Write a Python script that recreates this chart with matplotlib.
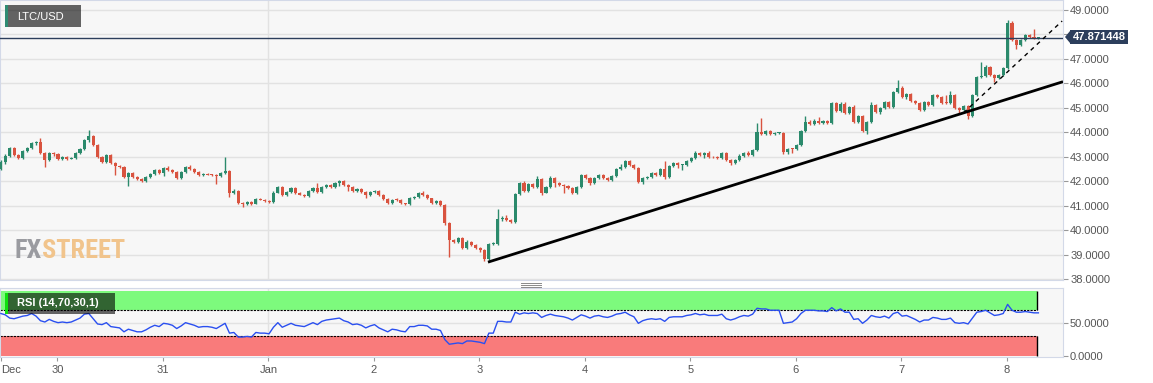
import numpy as np
import matplotlib.pyplot as plt
from matplotlib.patches import Rectangle, Polygon
from matplotlib.lines import Line2D

plt.rcParams['font.family'] = ['Liberation Sans', 'DejaVu Sans']

W, H = 1153, 383

# hourly LTC/USD candles, Dec 29 11:00 -> Jan 8 ~07:00
first_open = 42.50
closes = [
    42.78, 43.05, 43.34, 43.07, 42.95, 43.23, 43.34, 43.56, 43.62, 43.15, 42.87, 43.15, 43.10, 42.90, 42.99, 42.92, 42.95, 43.15, 43.31, 43.68, 43.85, 43.48, 42.99, 42.78,
    43.07, 42.74, 42.62, 42.58, 42.17, 42.33, 42.17, 42.09, 42.00, 42.17, 42.29, 42.46, 42.33, 42.54, 42.46, 42.37, 42.13, 42.37, 42.58, 42.50, 42.37, 42.25, 42.29, 42.27,
    42.25, 42.20, 42.33, 42.42, 41.52, 41.60, 41.10, 41.06, 41.15, 41.08, 41.27, 41.25, 41.19, 41.15, 41.53, 41.76, 41.43, 41.56, 41.72, 41.52, 41.45, 41.40, 41.60, 41.72,
    41.56, 41.76, 41.84, 41.76, 41.92, 42.00, 41.84, 41.76, 41.60, 41.68, 41.56, 41.43, 41.56, 41.60, 41.43, 41.27, 41.10, 41.23, 41.22, 41.10, 41.06, 41.31, 41.35, 41.52,
    41.43, 41.31, 41.10, 41.19, 41.02, 40.29, 39.59, 39.51, 39.67, 39.27, 39.51, 39.39, 39.27, 39.18, 38.82, 39.43, 39.45, 40.45, 40.50, 40.41, 40.33, 41.47, 41.92, 41.60,
    41.88, 41.76, 42.09, 41.52, 41.76, 42.13, 41.92, 41.84, 41.80, 41.72, 41.52, 41.76, 42.25, 42.13, 41.92, 42.13, 42.25, 42.13, 42.05, 42.21, 42.50, 42.58, 42.82, 42.66,
    42.54, 41.96, 42.13, 42.17, 42.33, 42.25, 42.50, 42.17, 42.62, 42.74, 42.66, 42.66, 42.82, 42.95, 43.15, 43.07, 43.15, 42.99, 42.97, 42.95, 43.15, 42.87, 42.74, 42.87,
    43.03, 43.15, 43.07, 43.27, 44.01, 43.93, 44.05, 43.93, 43.97, 43.97, 43.19, 43.31, 43.30, 43.48, 44.05, 44.42, 44.34, 44.46, 44.38, 44.46, 44.38, 45.20, 44.87, 45.16,
    44.79, 45.03, 44.42, 44.67, 44.05, 44.42, 45.11, 44.83, 44.99, 45.24, 45.03, 45.65, 45.81, 45.44, 45.56, 45.28, 45.20, 44.91, 45.24, 45.11, 45.52, 45.44, 45.20, 45.18,
    45.52, 44.99, 44.91, 45.07, 44.67, 45.52, 46.26, 46.30, 46.67, 46.34, 46.22, 46.34, 46.63, 48.47, 47.77, 47.57, 47.77, 47.98, 47.90, 47.85, 47.87,
]
highs = [
    42.85, 43.12, 43.40, 43.40, 43.12, 43.28, 43.40, 43.62, 43.66, 43.76, 43.18, 43.20, 43.20, 43.14, 43.05, 43.02, 42.99, 43.20, 43.36, 43.72, 44.09, 43.90, 43.52, 43.02,
    43.12, 43.10, 42.78, 42.68, 42.62, 42.38, 42.36, 42.20, 42.12, 42.22, 42.33, 42.50, 42.50, 42.58, 42.62, 42.50, 42.40, 42.40, 42.62, 42.66, 42.54, 42.40, 42.33, 42.32,
    42.30, 42.28, 42.36, 42.99, 42.45, 41.70, 41.64, 41.14, 41.19, 41.18, 41.31, 41.32, 41.28, 41.22, 41.60, 41.80, 41.80, 41.60, 41.76, 41.75, 41.55, 41.48, 41.64, 41.76,
    41.92, 41.80, 41.90, 41.88, 41.96, 42.05, 42.04, 41.88, 41.79, 41.72, 41.72, 41.60, 41.60, 41.64, 41.64, 41.47, 41.30, 41.26, 41.30, 41.26, 41.12, 41.35, 41.38, 41.55,
    41.60, 41.46, 41.33, 41.22, 41.22, 41.05, 40.32, 39.64, 39.70, 39.70, 39.60, 39.55, 39.42, 39.30, 39.22, 39.48, 39.50, 40.86, 40.58, 40.62, 40.45, 41.50, 41.96, 42.00,
    41.92, 41.92, 42.22, 42.12, 41.80, 42.22, 42.16, 41.96, 41.88, 41.84, 41.76, 41.80, 42.29, 42.29, 42.16, 42.16, 42.29, 42.28, 42.16, 42.25, 42.54, 42.72, 42.85, 42.86,
    42.70, 42.58, 42.16, 42.22, 42.37, 42.37, 42.54, 42.82, 42.66, 42.78, 42.78, 42.70, 42.86, 42.99, 43.22, 43.20, 43.20, 43.22, 43.05, 43.04, 43.20, 43.18, 42.90, 42.90,
    43.10, 43.20, 43.24, 43.32, 44.38, 44.58, 44.10, 44.10, 44.01, 44.01, 44.01, 43.35, 43.37, 43.52, 44.09, 44.66, 44.50, 44.54, 44.62, 44.52, 44.50, 45.24, 45.24, 45.22,
    45.24, 45.08, 45.12, 44.72, 44.70, 44.46, 45.24, 45.16, 45.03, 45.28, 45.28, 45.70, 46.14, 45.88, 45.62, 45.62, 45.32, 45.24, 45.28, 45.28, 45.56, 45.56, 45.48, 45.52,
    45.70, 45.56, 45.03, 45.12, 45.10, 45.56, 46.30, 46.87, 46.75, 46.72, 46.38, 46.40, 46.68, 48.59, 48.55, 47.80, 47.82, 48.02, 48.04, 48.22, 47.90,
]
lows = [
    42.45, 42.72, 43.00, 43.02, 42.90, 42.90, 43.18, 43.30, 43.50, 43.10, 42.58, 42.82, 43.05, 42.85, 42.86, 42.88, 42.90, 42.92, 43.12, 43.28, 43.62, 43.44, 42.95, 42.74,
    42.74, 42.70, 42.25, 42.52, 42.12, 41.80, 42.12, 42.04, 41.96, 41.97, 42.14, 42.26, 42.28, 42.20, 42.42, 42.33, 42.09, 42.10, 42.34, 42.46, 42.33, 42.20, 42.22, 42.24,
    42.22, 41.88, 42.17, 42.30, 41.35, 41.48, 41.05, 40.95, 41.02, 41.04, 41.05, 41.22, 41.15, 41.10, 41.10, 41.50, 41.38, 41.40, 41.52, 41.48, 41.42, 41.36, 41.37, 41.56,
    41.52, 41.52, 41.72, 41.72, 41.73, 41.80, 41.80, 41.60, 41.56, 41.56, 41.52, 41.31, 41.40, 41.50, 41.40, 41.23, 41.06, 41.07, 41.18, 41.06, 41.02, 41.03, 41.28, 41.32,
    41.40, 41.27, 41.06, 41.07, 40.98, 40.20, 38.90, 39.46, 39.47, 39.22, 39.24, 39.35, 39.23, 39.10, 38.73, 38.78, 39.38, 39.40, 40.38, 40.36, 40.30, 40.30, 41.44, 41.55,
    41.56, 41.72, 41.73, 41.45, 41.50, 41.73, 41.75, 41.80, 41.50, 41.68, 41.48, 41.48, 41.72, 42.09, 41.86, 41.88, 42.10, 42.09, 42.00, 42.02, 42.18, 42.46, 42.55, 42.62,
    42.50, 41.92, 41.90, 42.08, 42.14, 42.20, 42.20, 42.10, 42.14, 42.58, 42.55, 42.45, 42.62, 42.78, 42.92, 43.02, 42.95, 42.95, 42.93, 42.90, 42.92, 42.83, 42.68, 42.70,
    42.84, 43.00, 43.02, 43.03, 43.24, 43.88, 43.88, 43.88, 43.90, 43.93, 43.12, 43.10, 43.15, 43.26, 43.45, 44.02, 44.30, 44.30, 44.34, 44.34, 44.33, 44.34, 44.83, 44.83,
    44.74, 44.75, 44.36, 44.38, 44.01, 43.93, 44.38, 44.78, 44.75, 44.95, 44.98, 45.00, 45.60, 45.40, 45.38, 45.24, 45.14, 44.86, 44.88, 45.06, 45.08, 45.40, 45.15, 45.14,
    45.15, 44.95, 44.78, 44.86, 44.55, 44.63, 45.48, 46.22, 46.26, 46.30, 46.05, 46.18, 46.30, 46.58, 47.72, 47.40, 47.53, 47.74, 47.85, 47.80, 47.83,
]
rsi = [
    65, 63, 58, 57, 59, 61, 62, 65, 61, 54, 52, 56, 53, 51, 52, 51, 52, 55, 58, 64, 65, 57, 49, 48,
    51, 45, 44, 43, 37, 41, 39, 37, 37, 40, 44, 47, 45, 50, 49, 47, 42, 46, 51, 49, 47, 44, 45, 45,
    44, 42, 46, 50, 35, 36, 29, 29, 30, 29, 36, 35, 35, 34, 44, 51, 44, 47, 50, 47, 46, 45, 48, 51,
    48, 53, 55, 56, 57, 58, 54, 52, 48, 49, 47, 43, 46, 48, 43, 40, 37, 41, 40, 38, 37, 45, 45, 47,
    47, 46, 41, 41, 39, 25, 18, 19, 20, 19, 23, 23, 22, 21, 19, 35, 35, 53, 53, 52, 52, 67, 64, 66,
    65, 66, 65, 59, 62, 64, 62, 61, 60, 58, 55, 59, 63, 61, 58, 61, 62, 60, 59, 61, 64, 65, 67, 63,
    60, 50, 54, 56, 57, 56, 57, 53, 59, 60, 60, 60, 62, 63, 65, 63, 64, 62, 62, 62, 64, 57, 55, 57,
    60, 62, 61, 64, 73, 72, 72, 70, 70, 70, 50, 51, 52, 57, 65, 70, 70, 70, 69, 69, 68, 74, 69, 72,
    67, 67, 56, 57, 50, 55, 62, 60, 59, 61, 58, 65, 67, 61, 62, 59, 56, 52, 55, 55, 59, 58, 56, 56,
    58, 51, 50, 51, 49, 58, 67, 68, 70, 66, 62, 63, 65, 79, 70, 67, 67, 68, 67, 66, 66,
]

price_ticks = [38, 39, 40, 41, 42, 43, 44, 45, 46, 47, 48, 49]
last_price = 47.871448
day_labels = ['30', '31', 'Jan', '2', '3', '4', '5', '6', '7', '8']
dec30_idx = 12.85          # candle index of Dec 30 00:00
trend_x = [110.8, 241.6]   # solid support line
trend_y = [38.69, 46.07]
dash_x = [219.0, 241.4]    # steeper dashed line
dash_y = [44.80, 48.55]

closes = np.array(closes)
opens = np.concatenate([[first_open], closes[:-1]])
highs = np.maximum(np.array(highs), np.maximum(opens, closes))
lows = np.minimum(np.array(lows), np.minimum(opens, closes))
x = np.arange(len(closes))

bg = '#f7f7f7'
grid_c = '#e2e2e2'
spine_c = '#d3d9e8'
up_c, down_c = '#2b8a6c', '#d9533f'
txt_c = '#555555'


def rect(l, t, r, b):
    return [l / W, 1 - b / H, (r - l) / W, (b - t) / H]


fig = plt.figure(figsize=(W / 100, H / 100), dpi=100)
ax = fig.add_axes(rect(0, 0, 1063, 280))
ax2 = fig.add_axes(rect(0, 288, 1063, 357))

xmin, xmax = -0.2, 241.6
jan_idx = dec30_idx + 48

# ---- price panel
ax.set_facecolor(bg)
ax.set_xlim(xmin, xmax)
ax.set_ylim(37.96, 49.41)
ax.set_yticks(price_ticks)
ax.set_yticklabels(['' if p == 48 else f'{p:.4f}' for p in price_ticks])
ax.yaxis.tick_right()
ax.yaxis.grid(True, color=grid_c, lw=1)
ax.set_axisbelow(True)
ax.axvline(jan_idx, color=grid_c, lw=1, zorder=0)
ax.tick_params(axis='y', length=3.6, width=0.8, color='#999999', pad=1.5,
               labelsize=8, labelcolor=txt_c)
ax.tick_params(axis='x', bottom=False, labelbottom=False)
for s in ax.spines.values():
    s.set_color(spine_c)

colors = np.where(closes >= opens, up_c, down_c)
ax.vlines(x, lows, highs, colors=colors, lw=1, zorder=3)
body_lo = np.minimum(opens, closes)
body_h = np.maximum(np.abs(closes - opens), 0.04)
ax.bar(x, body_h, bottom=body_lo, width=0.7, color=colors, lw=0, zorder=4)

ax.axhline(last_price, color='#2c3e5c', lw=1, zorder=5)
ax.plot(trend_x, trend_y, color='black', lw=2, solid_capstyle='butt', zorder=6)
ax.plot(dash_x, dash_y, color='black', lw=1, ls=(0, (3, 3)), zorder=6)

# ---- RSI panel
ax2.set_facecolor(bg)
ax2.set_xlim(xmin, xmax)
ax2.set_ylim(-1.5, 104)
band_end = len(closes) - 1.3
ax2.fill_between([xmin, band_end], 70, 100, color='#7dfa7d', lw=0, zorder=1)
ax2.fill_between([xmin, band_end], 0, 30, color='#f97b7b', lw=0, zorder=1)
ax2.hlines([70, 30], xmin, band_end, colors='black', lw=0.8, linestyles=(0, (2, 1)), zorder=2)
ax2.vlines([band_end, band_end], [70, 0], [100, 30], colors='black', lw=1, zorder=2)
ax2.axhline(50, color=grid_c, lw=1, zorder=0)
ax2.axvline(jan_idx, color=grid_c, lw=1, zorder=0)
ax2.plot(x, rsi, color='#2a4ff0', lw=1, zorder=3)
ax2.yaxis.tick_right()
ax2.set_yticks([0, 50])
ax2.set_yticklabels(['0.0000', '50.0000'])
ax2.tick_params(axis='y', length=3.6, width=0.8, color='#999999', pad=1.5,
                labelsize=8, labelcolor=txt_c)
ax2.set_xticks([0] + [dec30_idx + 24 * k for k in range(len(day_labels))])
ax2.set_xticklabels(['Dec'] + day_labels)
ax2.tick_params(axis='x', length=3, width=0.8, color='#999999', pad=3,
                labelsize=8, labelcolor=txt_c)
ax2.get_xticklabels()[0].set_ha('left')
for s in ax2.spines.values():
    s.set_color(spine_c)

# ---- overlays
def fbox(l, t, r, b, **kw):
    fig.add_artist(Rectangle((l / W, 1 - b / H), (r - l) / W, (b - t) / H,
                             transform=fig.transFigure, **kw))

fbox(5, 5, 81, 27, fc=(0, 0, 0, 0.6), ec='none', zorder=10)
fbox(5, 5, 8, 27, fc='#2e8b72', ec='none', zorder=11)
fig.text(17 / W, 1 - 16.5 / H, 'LTC/USD', color='white', fontsize=8,
         va='center', ha='left', zorder=12)

fbox(5, 293, 115, 314, fc=(0, 0, 0, 0.6), ec='none', zorder=10)
fbox(5, 293, 8, 314, fc='#10e010', ec='none', zorder=11)
fig.text(17 / W, 1 - 303.5 / H, 'RSI (14,70,30,1)', color='white', fontsize=8,
         fontweight='bold', va='center', ha='left', zorder=12)

# current price marker
fig.add_artist(Polygon([(1065 / W, 1 - 37 / H), (1070 / W, 1 - 31 / H), (1070 / W, 1 - 43 / H)],
                       closed=True, transform=fig.transFigure, fc='#2c3e5c', ec='none'))
fbox(1070, 30, 1128, 44, fc='#2c3e5c', ec='none', zorder=10)
fig.text(1099 / W, 1 - 37 / H, f'{last_price:.6f}', color='white', fontsize=8,
         fontweight='bold', va='center', ha='center', zorder=12)

# pane separator handle
for yy in (282.5, 284.5, 286.5):
    fig.add_artist(Line2D([521 / W, 541 / W], [1 - yy / H, 1 - yy / H],
                          transform=fig.transFigure, color='#8a8a8a', lw=0.7))

# watermark
wm_font = ['Roboto Condensed', 'Roboto', 'Liberation Sans']
t_fx = fig.text(15 / W, 1 - 258 / H, 'FX', color='#9a9ba0', fontsize=19,
                fontweight='bold', family=wm_font, va='baseline', ha='left')
ax.annotate('STREET', xy=(1, 0), xycoords=t_fx, color='#f1c48c', fontsize=19,
            fontweight='bold', family=wm_font, va='bottom', ha='left')

fig.savefig('out.png', dpi=100, facecolor='white')
